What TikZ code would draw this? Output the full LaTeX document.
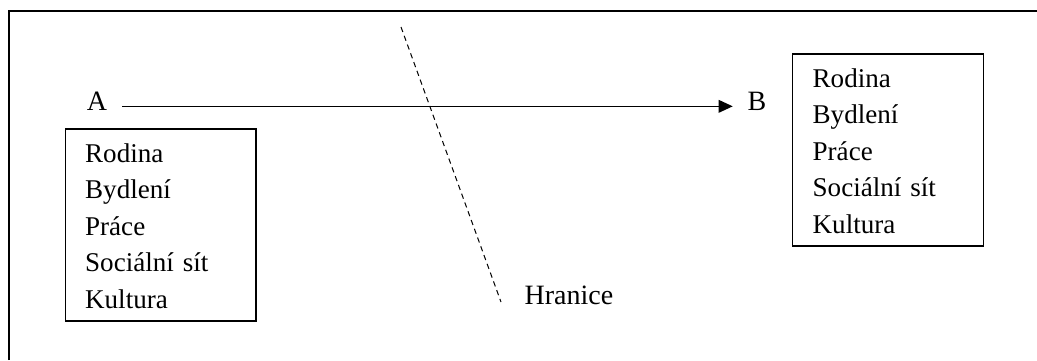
\documentclass[tikz,border=0pt]{standalone}
\usepackage{fontspec}
\setmainfont{Liberation Serif}
\usetikzlibrary{arrows.meta}

\begin{document}
\begin{tikzpicture}[
    x=0.75pt, y=-0.75pt,
    lbl/.style={font=\fontsize{21}{24}\selectfont, inner xsep=11pt, inner ysep=0pt},
    listbox/.style={draw, line width=1pt, align=left, text width=113pt,
                   inner xsep=15pt, minimum height=144pt,
                   font=\fontsize{20.3}{27.4}\selectfont},
    arr/.style={-{Triangle[length=10.5pt,width=9.5pt]}, line width=1pt},
    border/.style={dash pattern=on 4pt off 3pt, line width=0.75pt}
]
\useasboundingbox (0,0) rectangle (1037,360);
\draw[line width=1pt] (9,360) -- (9,11) -- (1037,11);

\node[lbl] (a) at (97,101) {A};
\node[lbl] (b) at (757,101) {B};
\node[listbox] (home) at (160.5,225) {\rule{0pt}{15.5pt}Rodina\\Bydlení\\Práce\\Sociální sít\\Kultura};
\node[listbox] (host) at (888,150) {\rule{0pt}{15.5pt}Rodina\\Bydlení\\Práce\\Sociální sít\\Kultura};
\node[lbl, inner xsep=0pt] (hr) at (569,295) {Hranice};
\coordinate (h1) at (401,27);
\coordinate (h2) at (501,302);

\draw[arr] ([yshift=-4pt]a.east) -- ([yshift=-4pt]b.west);
\draw[border] (h1) -- (h2);
\end{tikzpicture}
\end{document}
